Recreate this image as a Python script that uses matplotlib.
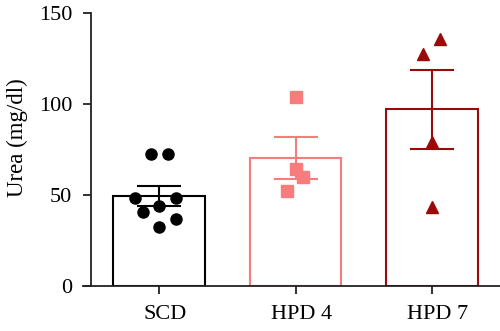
import matplotlib
matplotlib.use("Agg")
import matplotlib.pyplot as plt
import matplotlib.transforms as mtransforms

categories = ["SCD", "HPD 4", "HPD 7"]
means = [49.4, 70.2, 97.0]
sems = [5.5, 11.5, 21.5]
scd_points = [72.3, 72.3, 48.2, 48.2, 44.1, 40.5, 36.6, 32.2]
hpd4_points = [104.0, 64.3, 60.1, 52.2]
hpd7_points = [135.5, 127.5, 79.3, 43.6]
jitter = [
    [-0.061, 0.062, -0.178, 0.122, 0.0, -0.122, 0.122, 0.0],
    [0.0, 0.0, 0.056, -0.062],
    [0.061, -0.062, 0.0, 0.0],
]
points = [scd_points, hpd4_points, hpd7_points]
colors = ["#000000", "#F87C7C", "#9A0A0A"]
markers = ["o", "s", "^"]
yticks = [0, 50, 100, 150]

plt.rcParams['font.family'] = ['Liberation Serif', 'DejaVu Serif']
fig = plt.figure(figsize=(5.0, 3.31), dpi=100)
ax = fig.add_axes([0.182, 0.136, 0.818, 0.8247])

for i, cat in enumerate(categories):
    ax.bar(i, means[i], width=0.67, facecolor="white", edgecolor=colors[i],
           linewidth=1.5, zorder=2)
    ax.errorbar(i, means[i], yerr=sems[i], color=colors[i], capsize=16,
                capthick=1.5, elinewidth=1.5, zorder=3)
    xs = [i + j for j in jitter[i]]
    ax.plot(xs, points[i], linestyle="none", marker=markers[i], color=colors[i],
            markersize=8 if markers[i] != "^" else 8.5, zorder=4)

ax.set_xlim(-0.5, 2.5)
ax.set_ylim(0, 150)
ax.set_yticks(yticks)
ax.set_xticks(range(len(categories)))
ax.set_xticklabels(categories)
ax.set_ylabel("Urea (mg/dl)", fontsize=16.5)
ax.yaxis.set_label_coords(-0.155, 0.545)
ax.spines["top"].set_visible(False)
ax.spines["right"].set_visible(False)
for s in ["left", "bottom"]:
    ax.spines[s].set_linewidth(1.3)
    ax.spines[s].set_color("#222222")
ax.tick_params(axis="both", length=6, width=1.3, color="#222222",
               labelsize=16)
ax.tick_params(axis="y", pad=7.5)
ax.tick_params(axis="x", pad=8)
ax.spines["bottom"].set_bounds(-0.56, 2.5)
ax.spines["bottom"].set_clip_on(False)

offset = mtransforms.ScaledTranslation(6 / 100, 0, fig.dpi_scale_trans)
for lbl in ax.get_xticklabels():
    lbl.set_transform(lbl.get_transform() + offset)

fig.savefig("out.png", dpi=100)
